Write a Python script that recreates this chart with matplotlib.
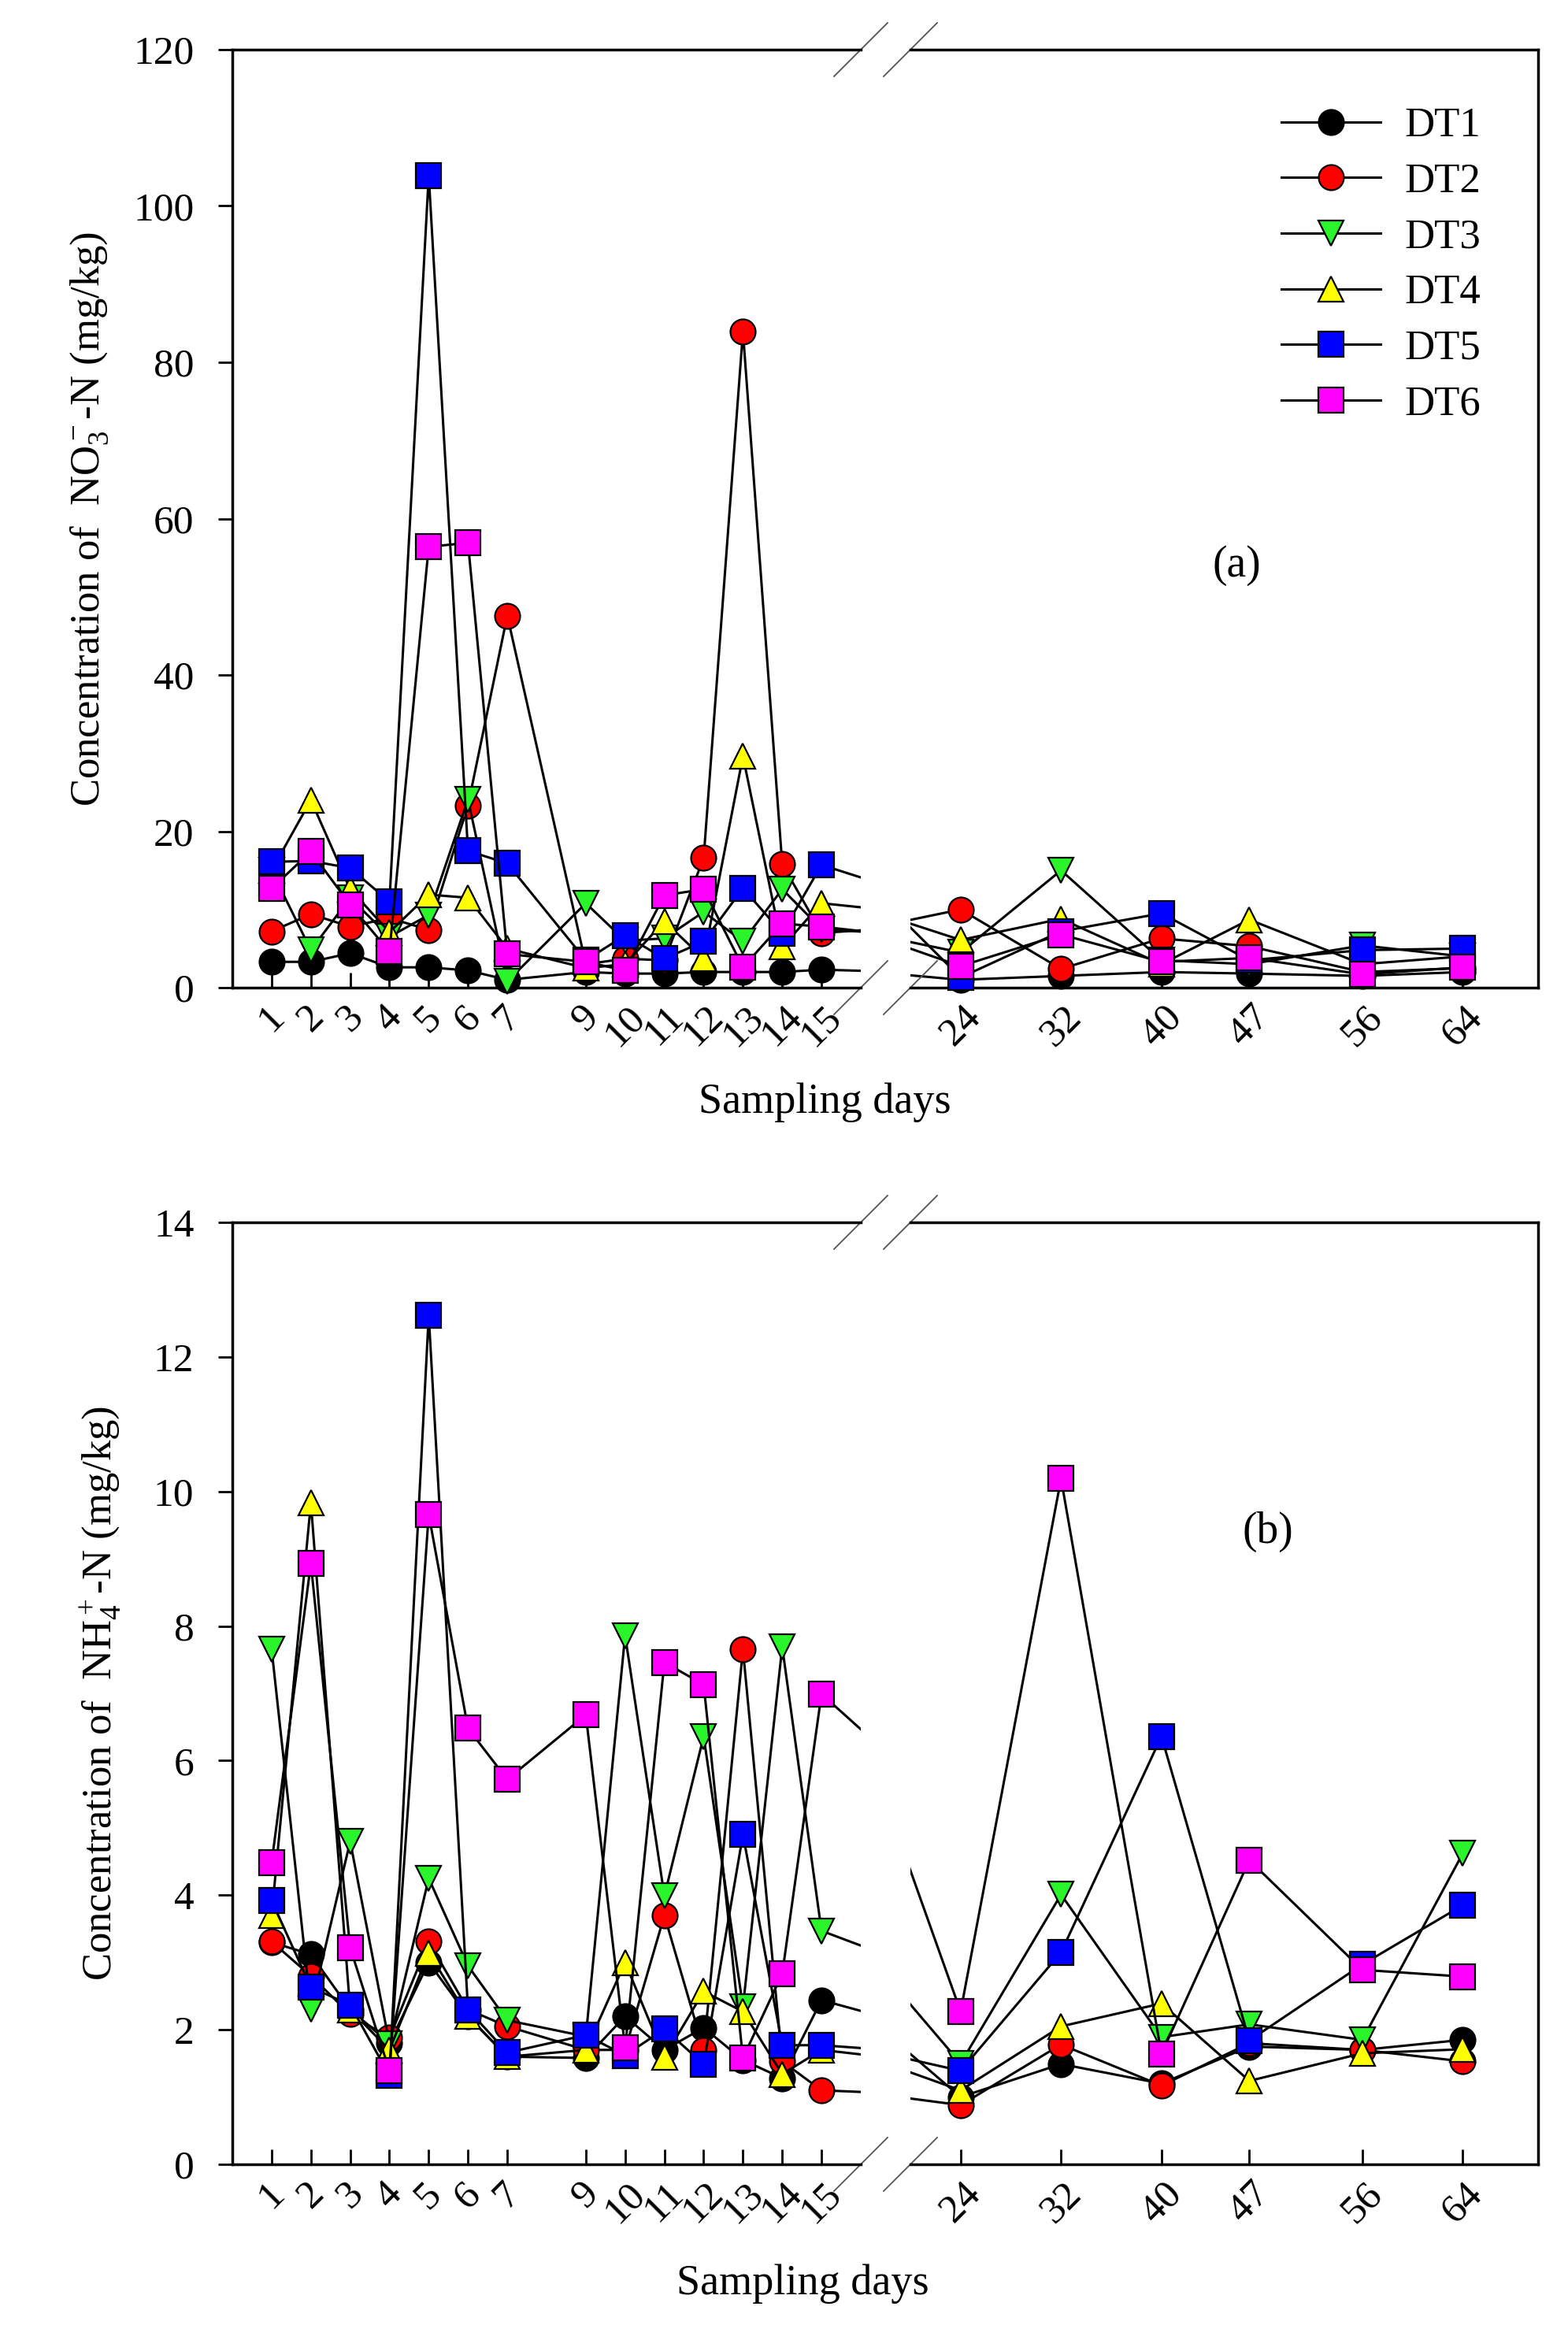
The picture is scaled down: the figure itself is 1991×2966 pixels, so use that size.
import matplotlib
matplotlib.use("Agg")
import matplotlib.pyplot as plt
from matplotlib.lines import Line2D

plt.rcParams['font.family'] = ['Liberation Serif', 'DejaVu Serif']
plt.rcParams['mathtext.fontset'] = 'custom'
plt.rcParams['mathtext.rm'] = 'Liberation Serif'
plt.rcParams['mathtext.it'] = 'Liberation Serif:italic'

# sampling days
days = [1, 2, 3, 4, 5, 6, 7, 9, 10, 11, 12, 13, 14, 15, 24, 32, 40, 47, 56, 64]
left_ticks = [1, 2, 3, 4, 5, 6, 7, 9, 10, 11, 12, 13, 14, 15]
right_ticks = [24, 32, 40, 47, 56, 64]

names = ["DT1", "DT2", "DT3", "DT4", "DT5", "DT6"]
markers = ["o", "o", "v", "^", "s", "s"]
colors = ["#000000", "#ff0000", "#2af52a", "#ffff00", "#0000ff", "#ff00ff"]

# (a) NO3- -N, mg/kg
no3_dt1 = [3.3, 3.3, 4.4, 2.6, 2.6, 2.2, 1.0, 2.0, 1.8, 1.8, 2.0, 2.0, 2.0, 2.3, 1.0, 1.5, 2.0, 1.8, 1.5, 2.0]
no3_dt2 = [7.2, 9.4, 7.8, 8.9, 7.4, 23.3, 47.6, 3.0, 3.7, 3.5, 16.6, 83.9, 15.8, 7.0, 10.0, 2.4, 6.3, 5.3, 2.0, 2.5]
no3_dt3 = [15.0, 4.8, 11.5, 6.5, 9.3, 24.1, 0.8, 10.8, 6.0, 6.3, 9.7, 5.9, 12.6, 7.5, 4.5, 15.0, 3.5, 3.0, 5.4, 4.0]
no3_dt4 = [15.0, 24.0, 12.6, 7.1, 11.9, 11.5, 5.0, 2.5, 3.0, 8.5, 3.7, 29.6, 5.2, 10.8, 6.1, 8.8, 3.0, 8.7, 3.0, 4.0]
no3_dt5 = [16.1, 16.2, 15.3, 11.0, 103.9, 17.5, 15.9, 3.5, 6.7, 3.7, 5.9, 12.7, 7.0, 15.7, 1.3, 7.2, 9.5, 3.5, 4.8, 5.0]
no3_dt6 = [12.7, 17.4, 10.6, 4.6, 56.4, 56.9, 4.3, 3.3, 2.2, 11.8, 12.6, 2.6, 8.2, 7.8, 2.75, 6.8, 3.3, 3.8, 1.7, 2.6]

# (b) NH4+ -N, mg/kg
nh4_dt1 = [3.3, 3.12, 2.3, 1.8, 3.0, 2.2, 1.6, 1.58, 2.2, 1.7, 2.03, 1.55, 1.28, 2.44, 1.0, 1.49, 1.2, 1.75, 1.7, 1.85]
nh4_dt2 = [3.31, 2.8, 2.23, 1.88, 3.31, 2.3, 2.05, 1.7, 1.7, 3.7, 1.7, 7.65, 1.53, 1.1, 0.88, 1.78, 1.17, 1.8, 1.7, 1.53]
nh4_dt3 = [7.66, 2.31, 4.8, 1.79, 4.25, 2.95, 2.14, 1.9, 7.86, 3.99, 6.36, 2.34, 7.69, 3.47, 1.5, 4.01, 1.89, 2.08, 1.85, 4.62]
nh4_dt4 = [3.7, 9.83, 2.3, 1.7, 3.14, 2.2, 1.6, 1.7, 3.0, 1.59, 2.57, 2.27, 1.34, 1.7, 1.1, 2.05, 2.39, 1.24, 1.65, 1.71]
nh4_dt5 = [3.92, 2.63, 2.37, 1.32, 12.62, 2.3, 1.66, 1.92, 1.62, 2.01, 1.49, 4.9, 1.77, 1.77, 1.39, 3.15, 6.36, 1.84, 2.97, 3.85]
nh4_dt6 = [4.48, 8.93, 3.22, 1.39, 9.66, 6.48, 5.72, 6.68, 1.73, 7.46, 7.13, 1.58, 2.83, 6.99, 2.27, 10.19, 1.64, 4.52, 2.89, 2.79]

no3 = [no3_dt1, no3_dt2, no3_dt3, no3_dt4, no3_dt5, no3_dt6]
nh4 = [nh4_dt1, nh4_dt2, nh4_dt3, nh4_dt4, nh4_dt5, nh4_dt6]

W, H = 1991, 2966
LW = 2.2
MS = 23
FS = 38


def rect(x0, y0, x1, y1):
    return [x0 / W, 1 - y1 / H, (x1 - x0) / W, (y1 - y0) / H]


def panel(axl, axr, series, ymax, ystep, ylabel, tag, tag_xy, ylab_x):
    for i, vals in enumerate(series):
        for ax, lo, hi in ((axl, 0, 16), (axr, 20, 70)):
            ax.plot(days, vals, color="black", lw=LW, zorder=2 + 2 * i)
            xs = [d for d in days if lo <= d <= hi]
            ys = [v for d, v in zip(days, vals) if lo <= d <= hi]
            ax.plot(xs, ys, ls="none", marker=markers[i], ms=MS, mfc=colors[i],
                    mec="black", mew=1.6, clip_on=False, zorder=3 + 2 * i)

    axl.set_xlim(0, 16)
    axr.set_xlim(20, 70)
    for ax in (axl, axr):
        ax.set_ylim(0, ymax)
        for s in ax.spines.values():
            s.set_linewidth(2.5)
        ax.tick_params(axis="x", direction="in", length=14, width=2,
                       labelsize=37, pad=10, labelrotation=45)
    axl.spines["right"].set_visible(False)
    axr.spines["left"].set_visible(False)
    axl.set_xticks(left_ticks)
    axr.set_xticks(right_ticks)
    axl.set_yticks(range(0, ymax + 1, ystep))
    axl.tick_params(axis="y", direction="out", length=13, width=2, labelsize=37, pad=22)
    axr.tick_params(axis="y", left=False, labelleft=False)

    axl.set_ylabel(ylabel, fontsize=FS, va="center")
    axl.yaxis.set_label_coords(ylab_x, 0.5)
    axr.text(tag_xy[0], tag_xy[1], tag, fontsize=40, ha="center", va="center")

    # break marks
    d = 34
    wl = axl.get_position().width * W
    hl = axl.get_position().height * H
    wr = axr.get_position().width * W
    kw = dict(color="#555555", lw=1.3, clip_on=False)
    for yy in (0, 1):
        axl.plot([1 - d / wl, 1 + d / wl], [yy - d / hl, yy + d / hl], transform=axl.transAxes, **kw)
        axr.plot([-d / wr, d / wr], [yy - d / hl, yy + d / hl], transform=axr.transAxes, **kw)


fig = plt.figure(figsize=(W / 100, H / 100), dpi=100)

ax1l = fig.add_axes(rect(295, 63, 1093, 1254))
ax1r = fig.add_axes(rect(1156, 63, 1953, 1254))
ax2l = fig.add_axes(rect(295, 1552, 1093, 2748))
ax2r = fig.add_axes(rect(1156, 1552, 1953, 2748))

panel(ax1l, ax1r, no3, 120, 20, r"Concentration of  $\mathrm{NO_3^-}$-N (mg/kg)", "(a)", (46, 54), -0.228)
panel(ax2l, ax2r, nh4, 14, 2, r"Concentration of  $\mathrm{NH_4^+}$-N (mg/kg)", "(b)", (48.5, 9.4), -0.209)

fig.text(1047 / W, 1 - 1400 / H, "Sampling days", fontsize=39, ha="center", va="center")
fig.text(1019 / W, 1 - 2900 / H, "Sampling days", fontsize=39, ha="center", va="center")

handles = [Line2D([], [], color="black", lw=LW, marker=m, ms=MS, mfc=c, mec="black", mew=1.6)
           for m, c in zip(markers, colors)]
fig.legend(handles, names, loc="upper left", bbox_to_anchor=(1627 / W, 1 - 136 / H),
           frameon=False, fontsize=FS, numpoints=1, handlelength=2.39, handletextpad=0.57,
           labelspacing=0.43, borderpad=0, borderaxespad=0)

fig.savefig("out.png", dpi=100)
